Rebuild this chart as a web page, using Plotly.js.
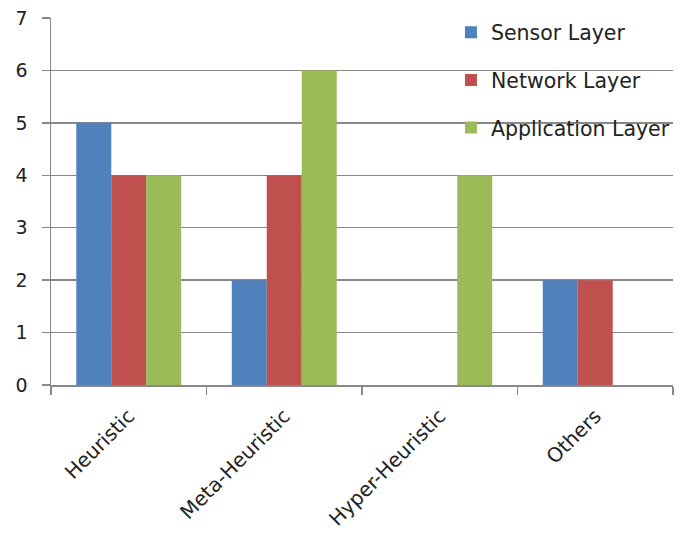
<!DOCTYPE html>
<html>
<head>
<meta charset="utf-8">
<script src="https://cdn.plot.ly/plotly-3.0.1.min.js"></script>
<style>html,body{margin:0;padding:0;background:#fff;}#chart{width:688px;height:538px;}</style>
</head>
<body>
<div id="chart"></div>
<script>
const categories = ["Heuristic", "Meta-Heuristic", "Hyper-Heuristic", "Others"];
const sensorLayer = [5, 2, 0, 2];
const networkLayer = [4, 4, 0, 2];
const applicationLayer = [4, 6, 4, 0];
const seriesNames = ["Sensor Layer", "Network Layer", "Application Layer"];
const seriesColors = ["#4F81BD", "#C0504D", "#9BBB59"];
const yTicks = [0, 1, 2, 3, 4, 5, 6, 7];

const values = [sensorLayer, networkLayer, applicationLayer];
const traces = values.map((v, i) => ({
  type: "bar",
  x: categories,
  y: v,
  name: seriesNames[i],
  legendgroup: "g" + i,
  marker: { color: seriesColors[i], line: { width: 0 } }
}));

const layout = {
  width: 688,
  height: 538,
  margin: { l: 51, r: 15, t: 18, b: 153 },
  paper_bgcolor: "#ffffff",
  plot_bgcolor: "#ffffff",
  font: { family: "DejaVu Sans, Verdana, sans-serif", size: 20, color: "#222" },
  barmode: "group",
  bargap: 0.325,
  bargroupgap: 0,
  showlegend: true,
  legend: {
    x: 0.643, y: 1.015, xanchor: "left", yanchor: "top",
    bgcolor: "rgba(255,255,255,0)",
    font: { size: 20.5, color: "#222" },
    traceorder: "grouped",
    tracegroupgap: 18
  },
  xaxis: {
    type: "category",
    tickangle: -45,
    showline: true,
    linecolor: "#888",
    linewidth: 1.5,
    ticks: "outside",
    tickson: "boundaries",
    ticklen: 8,
    tickcolor: "#888",
    tickwidth: 1.5,
    showgrid: false,
    ticklabelstandoff: 10,
    tickfont: { size: 20, color: "#222" }
  },
  yaxis: {
    range: [0, 7],
    tickvals: yTicks,
    showline: true,
    linecolor: "#888",
    linewidth: 1.5,
    ticks: "outside",
    ticklen: 8,
    tickcolor: "#888",
    tickwidth: 1.5,
    showgrid: true,
    gridcolor: "#888",
    gridwidth: 1.5,
    zeroline: false,
    ticklabelstandoff: 10,
    tickfont: { size: 19, color: "#222" }
  }
};

Plotly.newPlot("chart", traces, layout, { displayModeBar: false, staticPlot: true });
</script>
</body>
</html>
